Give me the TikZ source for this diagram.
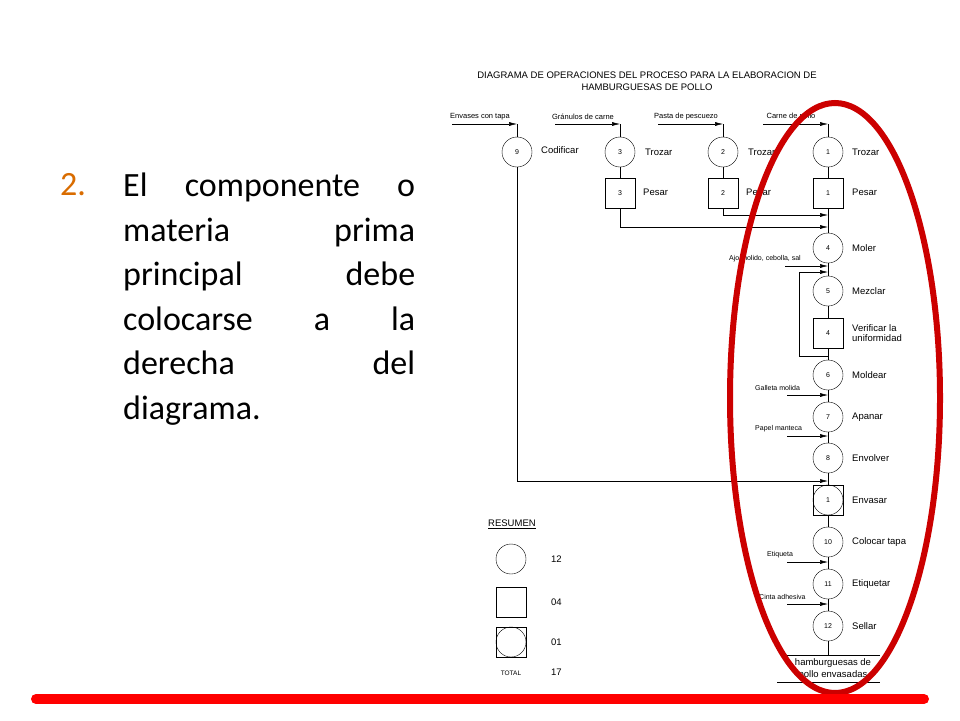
\documentclass[tikz,border=0pt]{standalone}
\usepackage{fontspec}
\setmainfont{Liberation Sans}
\newfontfamily\calib{Carlito}
\usetikzlibrary{arrows.meta}
\begin{document}
\begin{tikzpicture}[x=1pt,y=-1pt,
 op/.style={circle,draw,minimum size=30pt,inner sep=0pt,font=\fontsize{7}{8}\selectfont},
 insp/.style={draw,minimum size=30pt,inner sep=0pt,font=\fontsize{7}{8}\selectfont},
 lab/.style={anchor=west,font=\fontsize{9.5}{10.5}\selectfont,align=left,inner sep=0pt},
 sm/.style={font=\fontsize{7.5}{8}\selectfont,inner sep=0pt},
 arr/.style={-{Latex[length=8pt,width=4pt]}},
 ln/.style={line width=0.5pt}]
\useasboundingbox (0,0) rectangle (960,720);
\fill[white] (0,0) rectangle (960,720);
% left text
\node[anchor=north west,inner sep=0pt,text width=292pt,align=justify,font=\calib\fontsize{34}{44.5}\selectfont] (txt) at (123,173) {\hyphenpenalty=10000 El componente o\linebreak materia prima\linebreak principal debe\linebreak colocarse a la\linebreak derecha del\linebreak diagrama.};
\node[anchor=north west,inner sep=0pt,font=\calib\fontsize{34}{44.5}\selectfont,text=orange!85!black] (num) at (60,173) {2.};
% title
\node[align=center,font=\fontsize{9.5}{12}\selectfont,inner sep=0pt] (title) at (647,81) {DIAGRAMA DE OPERACIONES DEL PROCESO PARA LA ELABORACION DE\\HAMBURGUESAS DE POLLO};
% top row
\foreach \n/\x/\t in {c9/517/9,c3/620/3,c2/723/2,c1/828/1} \node[op] (\n) at (\x,152) {\t};
\node[insp] (p3) at (620,193) {3};
\node[insp] (p2) at (723,193) {2};
\node[insp] (p1) at (828,193) {1};
\node[lab] (l9) at (541,150) {Codificar};
\node[lab] (l3) at (645,152) {Trozar};
\node[lab] (l2) at (748,152) {Trozar};
\node[lab] (l1) at (852,152) {Trozar};
\node[lab] (lp3) at (643,192) {Pesar};
\node[lab] (lp2) at (746,192) {Pesar};
\node[lab] (lp1) at (852,192) {Pesar};
\foreach \x/\t/\n in {517/Envases con tapa/a9,620/Gránulos de carne/a3,723/Pasta de pescuezo/a2,828/Carne de pollo/a1}{
 \coordinate (\n s) at (\x-65,124); \coordinate (\n e) at (\x,124);
 \node[sm,anchor=south] (\n t) at (\x-37,120) {\t};
 \draw[ln,arr] (\n s) -- (\n e);}
\draw[ln] (a9e) -- (c9); \draw[ln] (a3e) -- (c3); \draw[ln] (a2e) -- (c2); \draw[ln] (a1e) -- (c1);
\draw[ln] (c3) -- (p3); \draw[ln] (c2) -- (p2); \draw[ln] (c1) -- (p1);
% main column
\node[op] (c4) at (828,248) {4}; \node[lab] at (852,248) {Moler};
\node[op] (c5) at (828,291) {5}; \node[lab] at (852,291) {Mezclar};
\node[insp] (v4) at (828,333) {4}; \node[lab] at (852,333) {Verificar la\\uniformidad};
\node[op] (c6) at (828,375) {6}; \node[lab] at (852,375) {Moldear};
\node[op] (c7) at (828,417) {7}; \node[lab] at (852,417) {Apanar};
\node[op] (c8) at (828,458) {8}; \node[lab] at (852,458) {Envolver};
\node[insp] (e1b) at (828,500) {}; \node[op] (e1) at (828,500) {1}; \node[lab] at (852,500) {Envasar};
\node[op] (c10) at (828,542) {10}; \node[lab] at (852,542) {Colocar tapa};
\node[op] (c11) at (828,584) {11}; \node[lab] at (852,584) {Etiquetar};
\node[op] (c12) at (828,626) {12}; \node[lab] at (852,626) {Sellar};
\draw[ln] (p1)--(c4)--(c5)--(v4)--(c6)--(c7)--(c8)--(e1b)--(c10)--(c11)--(c12);
\coordinate (j2) at (828,215); \coordinate (j3) at (828,227);
\draw[ln,arr] (p2.south) |- (j2);
\draw[ln,arr] (p3.south) |- (j3);
% additions
\foreach \y/\t/\xs/\tx/\n in {266/{Ajo molido, cebolla, sal}/785/729/ad1,395/Galleta molida/787/755/ad2,436/Papel manteca/787/755/ad3,562/Etiqueta/787/767/ad4,604/Cinta adhesiva/787/759/ad5}{
 \coordinate (\n s) at (\xs,\y); \coordinate (\n e) at (828,\y);
 \draw[ln,arr] (\n s) -- (\n e);
 \node[sm,anchor=south west,font=\fontsize{7}{7.5}\selectfont] (\n t) at (\tx,\y-4) {\t};}
% loop
\coordinate (lp0) at (828,356); \coordinate (lpc) at (799,356); \coordinate (lpe) at (828,272);
\draw[ln,arr] (lp0) -- (lpc) |- (lpe);
% long line
\coordinate (je) at (828,481);
\draw[ln,arr] (c9.south) |- (je);
% final
\coordinate (fe) at (828,655);
\draw[ln] (c12) -- (fe);
\coordinate (h1a) at (785,655); \coordinate (h1b) at (880,655);
\coordinate (h2a) at (777,682); \coordinate (h2b) at (880,682);
\draw[ln] (h1a)--(h1b); \draw[ln] (h2a)--(h2b);
\node[align=center,font=\fontsize{9.5}{11.5}\selectfont,inner sep=0pt] (prod) at (833,669) {hamburguesas de\\pollo envasadas};
% legend
\node[anchor=west,inner sep=0pt,font=\fontsize{9.5}{10}\selectfont] (res) at (488,524) {\underline{RESUMEN}};
\node[op] (g1) at (511,559) {}; \node[lab] at (551,559) {12};
\node[insp] (g2) at (511,602) {}; \node[lab] at (551,602) {04};
\node[insp] (g3b) at (511,642) {}; \node[op] (g3) at (511,642) {}; \node[lab] at (551,642) {01};
\node[sm,font=\fontsize{6.5}{7}\selectfont] (tot) at (511,673) {TOTAL}; \node[lab] at (551,672) {17};
% red marks
\draw[line width=6pt,red!80!black] (835,398) ellipse [x radius=105, y radius=295];
\coordinate (ba) at (36,699); \coordinate (bb) at (924,699);
\draw[line width=10pt,red,line cap=round] (ba) -- (bb);
\end{tikzpicture}
\end{document}
